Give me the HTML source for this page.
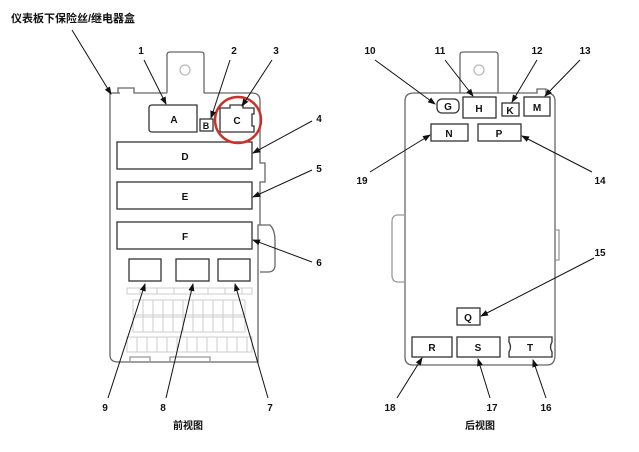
<!DOCTYPE html>
<html><head><meta charset="utf-8"><style>
html,body{margin:0;padding:0;background:#fff}
svg{display:block}
text{font-family:"Liberation Sans","Noto Sans CJK SC",sans-serif;font-weight:bold;fill:#111}
</style></head><body>
<svg width="639" height="452" viewBox="0 0 639 452" xmlns="http://www.w3.org/2000/svg">
<defs><marker id="a" markerWidth="8" markerHeight="8" refX="7" refY="4" orient="auto" markerUnits="userSpaceOnUse"><path d="M0,1 L8,4 L0,7 z" fill="#111"/></marker></defs>
<text x="11" y="22" font-size="11">仪表板下保险丝/继电器盒</text>
<g fill="none" stroke="#666" stroke-width="1.3">
<path d="M167,93 V55 Q167,52 170,52 H201 Q204,52 204,55 V93"/>
<circle cx="185" cy="70" r="5" stroke="#bbb"/>
<path d="M120,93 H110 Q110,93 110,100 V355 Q110,362 118,362 H258 V225 H270 Q275,230 275,240 V265 Q275,272 268,272 H260"/>
<path d="M118,93 V88 H134 V93 H167 M204,93 H252 Q260,93 260,101 V163 H265 V182 H260 V225"/>
<path d="M130,362 V357 H150 V362 M170,362 V357 H210 V362" stroke="#999"/>
<path d="M460,93 V55 Q460,52 463,52 H495 Q498,52 498,55 V93"/>
<circle cx="479" cy="70" r="5" stroke="#bbb"/>
<path d="M414,93 H537 V89 H546 V93 Q555,93 555,101 V355 Q555,365 547,365 H413 Q405,365 405,357 V101 Q405,93 414,93"/>
<path d="M405,215 H398 Q392,215 392,222 V275 Q392,282 398,282 H405 M555,230 H559 V260 H555" stroke="#999"/>
</g>
<g fill="#fff" stroke="#333" stroke-width="1.3">
<path d="M152,105 H197 V132 H152 Q149,132 149,129 V108 Q149,105 152,105z"/>
<rect x="200" y="119" width="13" height="12"/>
<path d="M220,108 H230 V105 H243 V108 H254 V114 H252 V126 H254 V132 H220z"/>
<rect x="117" y="142" width="135" height="27"/>
<rect x="117" y="182" width="135" height="27"/>
<rect x="117" y="222" width="135" height="27"/>
<rect x="129" y="259" width="32" height="22"/>
<rect x="176" y="259" width="33" height="22"/>
<rect x="218" y="259" width="32" height="22"/>
<rect x="437" y="99" width="22" height="14" rx="5"/>
<rect x="463" y="97" width="33" height="21"/>
<rect x="502" y="103" width="17" height="13"/>
<rect x="524" y="97" width="26" height="19"/>
<rect x="431" y="124" width="37" height="17"/>
<rect x="478" y="124" width="43" height="17"/>
<rect x="457" y="308" width="23" height="17"/>
<rect x="412" y="337" width="40" height="20"/>
<rect x="457" y="337" width="43" height="20"/>
<path d="M509,337 H552 V342 Q549,347 552,352 V357 H509 V352 Q512,347 509,342z"/>
</g>
<g fill="none" stroke="#ccc" stroke-width="1">
<rect x="127" y="288" width="125" height="6"/>
<path d="M140,288 V294 M157,288 V294 M174,288 V294 M191,288 V294 M208,288 V294 M225,288 V294 M242,288 V294"/>
<rect x="133" y="300" width="112" height="15"/><rect x="133" y="317" width="112" height="15"/><rect x="127" y="337" width="125" height="15"/>
<path d="M143,300 V332 M153,300 V332 M163,300 V332 M173,300 V332 M183,300 V332 M193,300 V332 M203,300 V332 M213,300 V332 M223,300 V332 M233,300 V332 M137,337 V352 M147,337 V352 M157,337 V352 M167,337 V352 M177,337 V352 M187,337 V352 M197,337 V352 M207,337 V352 M217,337 V352 M227,337 V352 M237,337 V352 M247,337 V352"/>
</g>
<circle cx="238" cy="120" r="23" fill="none" stroke="#c8322a" stroke-width="2.5"/>
<g font-size="10" text-anchor="middle">
<text x="174" y="123">A</text><text x="206" y="129" font-size="9">B</text><text x="237" y="124">C</text>
<text x="185" y="160">D</text><text x="185" y="200">E</text><text x="185" y="240">F</text>
<text x="448" y="110">G</text><text x="479" y="112">H</text><text x="510" y="114">K</text><text x="537" y="111">M</text>
<text x="449" y="137">N</text><text x="499" y="137">P</text><text x="468" y="321">Q</text>
<text x="432" y="351">R</text><text x="478" y="351">S</text><text x="530" y="351">T</text>
<text x="141" y="54">1</text><text x="234" y="54">2</text><text x="276" y="54">3</text>
<text x="319" y="122">4</text><text x="319" y="172">5</text><text x="319" y="266">6</text>
<text x="270" y="411">7</text><text x="163" y="411">8</text><text x="105" y="411">9</text>
<text x="370" y="54">10</text><text x="440" y="54">11</text><text x="537" y="54">12</text><text x="585" y="54">13</text>
<text x="600" y="184">14</text><text x="600" y="256">15</text><text x="546" y="411">16</text><text x="492" y="411">17</text><text x="390" y="411">18</text><text x="362" y="184">19</text>
<text x="188" y="429" font-size="10">前视图</text><text x="480" y="429" font-size="10">后视图</text>
</g>
<g stroke="#111" stroke-width="1" marker-end="url(#a)">
<line x1="72" y1="30" x2="111" y2="94"/>
<line x1="144" y1="60" x2="166" y2="104"/>
<line x1="230" y1="60" x2="211" y2="118"/>
<line x1="272" y1="60" x2="242" y2="106"/>
<line x1="312" y1="121" x2="253" y2="153"/>
<line x1="312" y1="170" x2="253" y2="197"/>
<line x1="312" y1="262" x2="253" y2="240"/>
<line x1="268" y1="398" x2="235" y2="284"/>
<line x1="166" y1="398" x2="193" y2="284"/>
<line x1="108" y1="398" x2="145" y2="284"/>
<line x1="375" y1="60" x2="435" y2="104"/>
<line x1="445" y1="60" x2="473" y2="96"/>
<line x1="537" y1="60" x2="512" y2="102"/>
<line x1="580" y1="60" x2="545" y2="96"/>
<line x1="370" y1="172" x2="430" y2="135"/>
<line x1="592" y1="172" x2="522" y2="136"/>
<line x1="594" y1="258" x2="481" y2="316"/>
<line x1="397" y1="398" x2="422" y2="358"/>
<line x1="490" y1="398" x2="478" y2="359"/>
<line x1="546" y1="398" x2="533" y2="360"/>
</g>
</svg>
</body></html>
